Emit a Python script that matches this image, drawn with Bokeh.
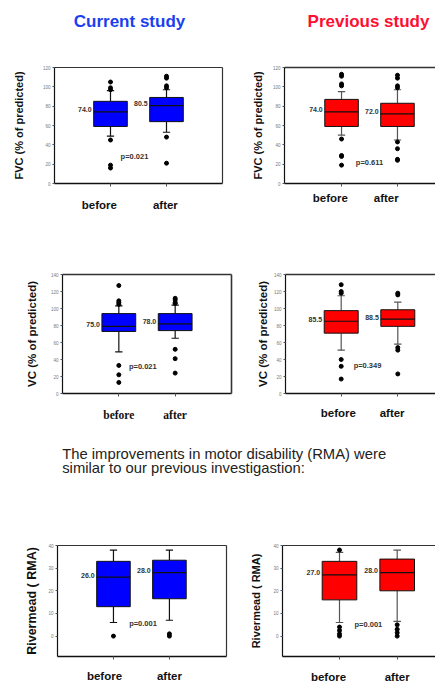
from bokeh.plotting import figure
from bokeh.models import Range1d, LinearAxis, FixedTicker
from bokeh.layouts import column, row
from bokeh.core.properties import value
from bokeh.embed import file_html
from bokeh.resources import INLINE

# ---------------- data ----------------
groups = ["before", "after"]
titles = ["Current study", "Previous study"]
paragraph = ["The improvements in motor disability (RMA) were",
             "similar to our previous investigastion:"]

# FVC, current study
fvc_cur_q1 = [59, 64]
fvc_cur_med = [74, 80.5]
fvc_cur_q3 = [85, 89]
fvc_cur_lo = [49, 53]
fvc_cur_hi = [96, 97]
fvc_cur_out_before = [105, 99, 97, 45, 19, 16]
fvc_cur_out_after = [111, 109, 101, 99, 48, 21]
fvc_cur_medlabels = ["74.0", "80.5"]
fvc_cur_p = "p=0.021"

# FVC, previous study
fvc_prev_q1 = [59, 59]
fvc_prev_med = [74, 72]
fvc_prev_q3 = [87, 83]
fvc_prev_lo = [50, 45]
fvc_prev_hi = [95, 97]
fvc_prev_out_before = [113, 111, 103, 101, 46, 29, 28, 19]
fvc_prev_out_after = [112, 109, 101, 99, 43, 36, 25, 24]
fvc_prev_medlabels = ["74.0", "72.0"]
fvc_prev_p = "p=0.611"

# VC, current study
vc_cur_q1 = [73, 74]
vc_cur_med = [79, 82]
vc_cur_q3 = [94, 94]
vc_cur_lo = [49, 65]
vc_cur_hi = [103, 104]
vc_cur_out_before = [127, 109, 107, 105, 33, 22, 13]
vc_cur_out_after = [112, 110, 107, 106, 52, 41, 24]
vc_cur_medlabels = ["75.0", "78.0"]
vc_cur_p = "p=0.021"

# VC, previous study
vc_prev_q1 = [71, 79]
vc_prev_med = [85, 87.5]
vc_prev_q3 = [97.5, 98.5]
vc_prev_lo = [51, 58]
vc_prev_hi = [115, 107.5]
vc_prev_out_before = [128, 120, 118, 40, 32, 17]
vc_prev_out_after = [118, 116, 54, 51, 23]
vc_prev_medlabels = ["85.5", "88.5"]
vc_prev_p = "p=0.349"

# Rivermead, current study
rma_cur_q1 = [13, 16.5]
rma_cur_med = [26, 28]
rma_cur_q3 = [33, 33.5]
rma_cur_lo = [6, 7]
rma_cur_hi = [38, 38]
rma_cur_out_before = [0]
rma_cur_out_after = [1, 0]
rma_cur_medlabels = ["26.0", "28.0"]
rma_cur_p = "p=0.001"

# Rivermead, previous study
rma_prev_q1 = [16, 20]
rma_prev_med = [27, 28]
rma_prev_q3 = [33, 34]
rma_prev_lo = [6, 6.5]
rma_prev_hi = [37, 38]
rma_prev_out_before = [38, 4, 2.5, 1, 0]
rma_prev_out_after = [5, 3, 1.5, 0]
rma_prev_medlabels = ["27.0", "28.0"]
rma_prev_p = "p=0.001"

fvc_ticks = [0, 20, 40, 60, 80, 100, 120]
vc_ticks = [0, 20, 40, 60, 80, 100, 120, 140]
rma_ticks = [0, 10, 20, 30, 40]

# ---------------- styles ----------------
FONT = "Liberation Sans"
BLUE_TITLE = "#1b3ff0"
RED_TITLE = "#fe0f32"
BLUE = "#0000ff"
RED = "#ff0000"


def panel(d, lay):
    p = figure(width=lay["w"], height=lay["h"],
               x_range=Range1d(*lay["xr"]), y_range=Range1d(*lay["yr"]),
               min_border_left=lay["l"], min_border_right=lay["r"],
               min_border_top=lay["t"], min_border_bottom=lay["b"],
               toolbar_location=None, output_backend="svg")
    p.grid.visible = False
    p.outline_line_color = None
    p.background_fill_color = "white"
    p.border_fill_color = "white"
    x = [1, 2]
    wc = lay["whisker"]
    cw = 0.065
    hw = 0.3
    # whiskers
    p.segment(x0=x, y0=d["lo"], x1=x, y1=d["q1"], line_color=wc, line_width=1.2)
    p.segment(x0=x, y0=d["q3"], x1=x, y1=d["hi"], line_color=wc, line_width=1.2)
    p.segment(x0=[v - cw for v in x], y0=d["lo"], x1=[v + cw for v in x], y1=d["lo"],
              line_color=wc, line_width=1.2)
    p.segment(x0=[v - cw for v in x], y0=d["hi"], x1=[v + cw for v in x], y1=d["hi"],
              line_color=wc, line_width=1.2)
    # boxes
    p.vbar(x=x, width=2 * hw, bottom=d["q1"], top=d["q3"], fill_color=lay["fill"],
           line_color="#111111", line_width=1)
    p.segment(x0=[v - hw for v in x], y0=d["med"], x1=[v + hw for v in x], y1=d["med"],
              line_color="#111111", line_width=1.2)
    # outliers
    ox = [1] * len(d["ob"]) + [2] * len(d["oa"])
    oy = list(d["ob"]) + list(d["oa"])
    p.scatter(x=ox, y=oy, size=4, fill_color="black", line_color="black")
    # median labels
    p.text(x=[v - hw for v in x], y=d["med"], text=d["ml"], x_offset=-2, y_offset=-2,
           text_align="right", text_baseline="middle", text_font=value(FONT),
           text_font_style="bold", text_font_size="7px", text_color="#333333")
    # p-value
    p.text(x=[lay["px"]], y=[lay["py"]], text=[d["p"]], text_align="left",
           text_baseline="middle", text_font=value(FONT), text_font_style="bold",
           text_font_size="7.5px", text_color="#333333")

    # y axis
    ya = p.yaxis[0]
    ya.ticker = FixedTicker(ticks=d["ticks"])
    ya.axis_label = d["ylabel"]
    ya.axis_label_text_font = FONT
    ya.axis_label_text_font_style = "bold"
    ya.axis_label_text_font_size = lay["ylfs"]
    ya.axis_label_text_color = "#111111"
    ya.axis_label_standoff = lay["yls"]
    ya.major_label_text_font = FONT
    ya.major_label_text_font_size = "4.5px"
    ya.major_label_text_color = "#777777"
    ya.major_label_standoff = 2
    ya.major_tick_out = 2
    ya.major_tick_in = 0
    ya.minor_tick_out = 0
    ya.minor_tick_in = 0
    ya.axis_line_color = "#111111"
    ya.axis_line_width = 1.2
    ya.major_tick_line_color = "#555555"

    # x axis (tick marks only, labels not drawn)
    xa = p.xaxis[0]
    xa.ticker = FixedTicker(ticks=x)
    xa.major_label_text_font_size = "1px"
    xa.major_label_text_color = None
    xa.major_label_standoff = 0
    xa.major_tick_out = 3
    xa.major_tick_in = 0
    xa.minor_tick_out = 0
    xa.minor_tick_in = 0
    xa.axis_line_color = "#111111"
    xa.axis_line_width = 1.5
    xa.major_tick_line_color = "#555555"

    # category labels
    pos = [round(1 + lay["off"][0], 3), round(2 + lay["off"][1], 3)]
    overrides = {}
    for ps, g in zip(pos, groups):
        overrides[ps] = g
        overrides[str(ps)] = g
    la = LinearAxis(ticker=FixedTicker(ticks=pos), major_label_overrides=overrides,
                    axis_line_color=None, major_tick_line_color=None,
                    minor_tick_line_color=None, major_tick_out=0, major_tick_in=0,
                    minor_tick_out=0, minor_tick_in=0,
                    major_label_standoff=lay["xls"],
                    major_label_text_font=lay["xfont"],
                    major_label_text_font_style="bold",
                    major_label_text_font_size="11.5px",
                    major_label_text_color="#111111")
    p.add_layout(la, "below")

    # frame borders
    ta = LinearAxis(ticker=FixedTicker(ticks=[]), major_tick_out=0, major_tick_in=0,
                    minor_tick_out=0, minor_tick_in=0, axis_line_color="#333333",
                    axis_line_width=lay["bw"])
    p.add_layout(ta, "above")
    if lay["right"]:
        ra = LinearAxis(ticker=FixedTicker(ticks=[]), major_tick_out=0, major_tick_in=0,
                        minor_tick_out=0, minor_tick_in=0, axis_line_color="#333333",
                        axis_line_width=lay["bw"])
        p.add_layout(ra, "right")
    return p


def pack(q1, med, q3, lo, hi, ob, oa, ml, pv, ticks, ylabel):
    return dict(q1=q1, med=med, q3=q3, lo=lo, hi=hi, ob=ob, oa=oa, ml=ml, p=pv,
                ticks=ticks, ylabel=ylabel)


d1 = pack(fvc_cur_q1, fvc_cur_med, fvc_cur_q3, fvc_cur_lo, fvc_cur_hi,
          fvc_cur_out_before, fvc_cur_out_after, fvc_cur_medlabels, fvc_cur_p,
          fvc_ticks, "FVC (% of predicted)")
d2 = pack(fvc_prev_q1, fvc_prev_med, fvc_prev_q3, fvc_prev_lo, fvc_prev_hi,
          fvc_prev_out_before, fvc_prev_out_after, fvc_prev_medlabels, fvc_prev_p,
          fvc_ticks, "FVC (% of predicted)")
d3 = pack(vc_cur_q1, vc_cur_med, vc_cur_q3, vc_cur_lo, vc_cur_hi,
          vc_cur_out_before, vc_cur_out_after, vc_cur_medlabels, vc_cur_p,
          vc_ticks, "VC (% of predicted)")
d4 = pack(vc_prev_q1, vc_prev_med, vc_prev_q3, vc_prev_lo, vc_prev_hi,
          vc_prev_out_before, vc_prev_out_after, vc_prev_medlabels, vc_prev_p,
          vc_ticks, "VC (% of predicted)")
d5 = pack(rma_cur_q1, rma_cur_med, rma_cur_q3, rma_cur_lo, rma_cur_hi,
          rma_cur_out_before, rma_cur_out_after, rma_cur_medlabels, rma_cur_p,
          rma_ticks, "Rivermead ( RMA)")
d6 = pack(rma_prev_q1, rma_prev_med, rma_prev_q3, rma_prev_lo, rma_prev_hi,
          rma_prev_out_before, rma_prev_out_after, rma_prev_medlabels, rma_prev_p,
          rma_ticks, "Rivermead ( RMA)")

L1 = dict(w=240, h=175, l=54, r=18, t=27, b=30, xr=(0, 3.0), yr=(0, 120), whisker="#111111",
          fill=BLUE, px=1.18, py=28, ylfs="11px", yls=15, off=(-0.2, -0.02), xls=12,
          xfont=FONT, bw=1.2, right=True)
L2 = dict(w=195, h=175, l=44, r=0, t=23, b=32, xr=(-0.02, 2.68), yr=(0, 120), whisker="#555555",
          fill=RED, px=1.255, py=22, ylfs="11px", yls=6, off=(-0.2, -0.2), xls=5,
          xfont=FONT, bw=1.6, right=False)
L3 = dict(w=240, h=215, l=62, r=9, t=59, b=37, xr=(0, 3.0), yr=(0, 140), whisker="#111111",
          fill=BLUE, px=1.18, py=32, ylfs="11.5px", yls=10, off=(0, 0), xls=12,
          xfont="Liberation Serif", bw=1.6, right=True)
L4 = dict(w=195, h=215, l=45, r=0, t=59, b=37, xr=(0.016, 2.666), yr=(0, 140), whisker="#555555",
          fill=RED, px=1.22, py=33, ylfs="11.5px", yls=2, off=(-0.05, -0.1), xls=10,
          xfont=FONT, bw=1.6, right=False)
L5 = dict(w=240, h=158, l=57, r=14, t=18, b=20, xr=(0, 3.02), yr=(-9, 40), whisker="#111111",
          fill=BLUE, px=1.28, py=5.7, ylfs="12.5px", yls=6, off=(-0.16, 0), xls=10,
          xfont=FONT, bw=1.2, right=True)
L6 = dict(w=195, h=158, l=42, r=0, t=16, b=24, xr=(0.012, 2.664), yr=(-9, 40), whisker="#555555",
          fill=RED, px=1.26, py=5.0, ylfs="11px", yls=8, off=(-0.19, 0), xls=11,
          xfont=FONT, bw=1.2, right=False)

p1, p2, p3, p4, p5, p6 = (panel(d1, L1), panel(d2, L2), panel(d3, L3),
                          panel(d4, L4), panel(d5, L5), panel(d6, L6))


def text_band(h):
    t = figure(width=435, height=h, x_range=Range1d(0, 435), y_range=Range1d(h, 0),
               min_border=0, toolbar_location=None, output_backend="svg",
               x_axis_type=None, y_axis_type=None)
    t.grid.visible = False
    t.outline_line_color = None
    t.background_fill_color = "white"
    t.border_fill_color = "white"
    return t


head = text_band(40)
head.text(x=[129, 368], y=[20.5, 20.5], text=titles, text_align="center",
          text_baseline="alphabetic", text_font=value(FONT), text_font_style="bold",
          text_font_size="17px", text_color=[BLUE_TITLE, RED_TITLE])

para = text_band(97)
para.text(x=[61.7, 61.7], y=[23.0, 37.5], text=paragraph, text_align="left",
          text_baseline="alphabetic", text_font=value(FONT), text_font_size="14.8px",
          text_color="#222222")

layout = column(head, row(p1, p2), row(p3, p4), para, row(p5, p6))

with open("out.html", "w") as f:
    f.write(file_html(layout, INLINE))
